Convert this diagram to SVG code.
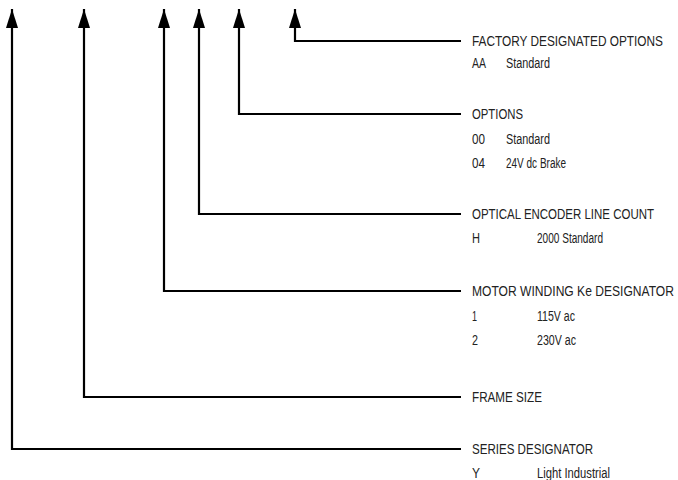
<svg xmlns="http://www.w3.org/2000/svg" width="678" height="480" viewBox="0 0 678 480">
<style>
.t{font-family:"Liberation Sans Narrow","Liberation Sans",Arial,sans-serif;font-size:14px;fill:#222}
.c{fill:none;stroke:#000;stroke-width:2.2}
</style>
<defs>
<marker id="ah" viewBox="0 0 19 12" refX="0" refY="6" markerWidth="19" markerHeight="12" markerUnits="userSpaceOnUse" orient="auto">
<path d="M0,6 L19,0 L19,12 Z" fill="#000"/>
</marker>
</defs>
<rect width="678" height="480" fill="#fff"/>
<g id="connectors">
<path class="c" d="M295,9 V41 H461" marker-start="url(#ah)"/>
<path class="c" d="M239,9 V114 H461" marker-start="url(#ah)"/>
<path class="c" d="M199,9 V214 H461" marker-start="url(#ah)"/>
<path class="c" d="M164,9 V291 H461" marker-start="url(#ah)"/>
<path class="c" d="M84,9 V397 H461" marker-start="url(#ah)"/>
<path class="c" d="M12,9 V449 H461" marker-start="url(#ah)"/>
</g>
<g id="factory">
<text class="t" x="472" y="45.5" textLength="191" lengthAdjust="spacingAndGlyphs">FACTORY DESIGNATED OPTIONS</text>
<text class="t" x="472" y="67.5" textLength="14" lengthAdjust="spacingAndGlyphs">AA</text>
<text class="t" x="506" y="67.5" textLength="44" lengthAdjust="spacingAndGlyphs">Standard</text>
</g>
<g id="options">
<text class="t" x="472" y="118.5" textLength="51" lengthAdjust="spacingAndGlyphs">OPTIONS</text>
<text class="t" x="472" y="143.5" textLength="13" lengthAdjust="spacingAndGlyphs">00</text>
<text class="t" x="506" y="143.5" textLength="44" lengthAdjust="spacingAndGlyphs">Standard</text>
<text class="t" x="472" y="167.5" textLength="13" lengthAdjust="spacingAndGlyphs">04</text>
<text class="t" x="506" y="167.5" textLength="60" lengthAdjust="spacingAndGlyphs">24V dc Brake</text>
</g>
<g id="encoder">
<text class="t" x="472" y="218.5" textLength="182" lengthAdjust="spacingAndGlyphs">OPTICAL ENCODER LINE COUNT</text>
<text class="t" x="472" y="242.5" textLength="8" lengthAdjust="spacingAndGlyphs">H</text>
<text class="t" x="537" y="242.5" textLength="66" lengthAdjust="spacingAndGlyphs">2000 Standard</text>
</g>
<g id="winding">
<text class="t" x="472" y="295.5" textLength="202" lengthAdjust="spacingAndGlyphs">MOTOR WINDING Ke DESIGNATOR</text>
<text class="t" x="472" y="320.5" textLength="5" lengthAdjust="spacingAndGlyphs">1</text>
<text class="t" x="537" y="320.5" textLength="38" lengthAdjust="spacingAndGlyphs">115V ac</text>
<text class="t" x="472" y="344.5" textLength="6" lengthAdjust="spacingAndGlyphs">2</text>
<text class="t" x="537" y="344.5" textLength="39" lengthAdjust="spacingAndGlyphs">230V ac</text>
</g>
<g id="frame">
<text class="t" x="472" y="401.5" textLength="70" lengthAdjust="spacingAndGlyphs">FRAME SIZE</text>
</g>
<g id="series">
<text class="t" x="472" y="453.5" textLength="121" lengthAdjust="spacingAndGlyphs">SERIES DESIGNATOR</text>
<text class="t" x="472" y="477.5" textLength="8" lengthAdjust="spacingAndGlyphs">Y</text>
<text class="t" x="537" y="477.5" textLength="73" lengthAdjust="spacingAndGlyphs">Light Industrial</text>
</g>
</svg>
